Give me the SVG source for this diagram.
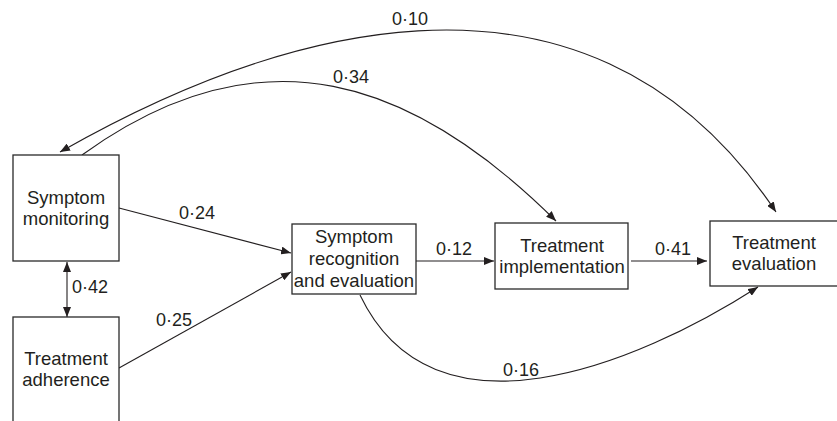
<svg xmlns="http://www.w3.org/2000/svg" width="837" height="421" viewBox="0 0 837 421">
<defs>
<style>
.box{fill:#fff;stroke:#2a2a2a;stroke-width:1.3}
.t{font-family:"Liberation Sans",Arial,sans-serif;font-size:18.5px;fill:#231f20;text-anchor:middle}
.l{font-family:"Liberation Sans",Arial,sans-serif;font-size:18px;fill:#231f20}
.c{fill:none;stroke:#231f20;stroke-width:1.1}
</style>
<marker id="ah" viewBox="0 0 10 8" refX="10" refY="4" markerWidth="10" markerHeight="8" markerUnits="userSpaceOnUse" orient="auto-start-reverse">
<path d="M0,0 L10,4 L0,8 z" fill="#231f20"/>
</marker>
</defs>
<rect width="837" height="421" fill="#fff"/>
<g id="connectors">
<path class="c" d="M776,212 C581,-80 255,41 60,152" marker-start="url(#ah)" marker-end="url(#ah)"/>
<path class="c" d="M82,155 C262,25 414,80 556,221" marker-end="url(#ah)"/>
<path class="c" d="M119,208 L291,253" marker-end="url(#ah)"/>
<path class="c" d="M119,368 L291,272" marker-end="url(#ah)"/>
<path class="c" d="M67,262 L67,317" marker-start="url(#ah)" marker-end="url(#ah)"/>
<path class="c" d="M416,261 L494,261" marker-end="url(#ah)"/>
<path class="c" d="M631,261 L707,261" marker-end="url(#ah)"/>
<path class="c" d="M360,295 C433,448 635,366 758,287" marker-end="url(#ah)"/>
<text class="l" x="392" y="25">0·10</text>
<text class="l" x="333" y="83">0·34</text>
<text class="l" x="179" y="219">0·24</text>
<text class="l" x="72" y="293">0·42</text>
<text class="l" x="156" y="326">0·25</text>
<text class="l" x="436" y="255">0·12</text>
<text class="l" x="655" y="255">0·41</text>
<text class="l" x="503" y="376">0·16</text>
</g>
<g id="symptom-monitoring">
<rect class="box" x="13" y="155" width="106" height="106"/>
<text class="t" x="66" y="204">Symptom</text>
<text class="t" x="66" y="225">monitoring</text>
</g>
<g id="treatment-adherence">
<rect class="box" x="13" y="317" width="106" height="120"/>
<text class="t" x="66" y="365">Treatment</text>
<text class="t" x="66" y="386">adherence</text>
</g>
<g id="symptom-recognition">
<rect class="box" x="292" y="224" width="124" height="70"/>
<text class="t" x="354" y="243">Symptom</text>
<text class="t" x="354" y="265">recognition</text>
<text class="t" x="354" y="287">and evaluation</text>
</g>
<g id="treatment-implementation">
<rect class="box" x="495" y="223" width="133" height="66"/>
<text class="t" x="562" y="252">Treatment</text>
<text class="t" x="562" y="273">implementation</text>
</g>
<g id="treatment-evaluation">
<rect class="box" x="710" y="221" width="130" height="65"/>
<text class="t" x="774" y="249">Treatment</text>
<text class="t" x="774" y="270">evaluation</text>
</g>
</svg>
